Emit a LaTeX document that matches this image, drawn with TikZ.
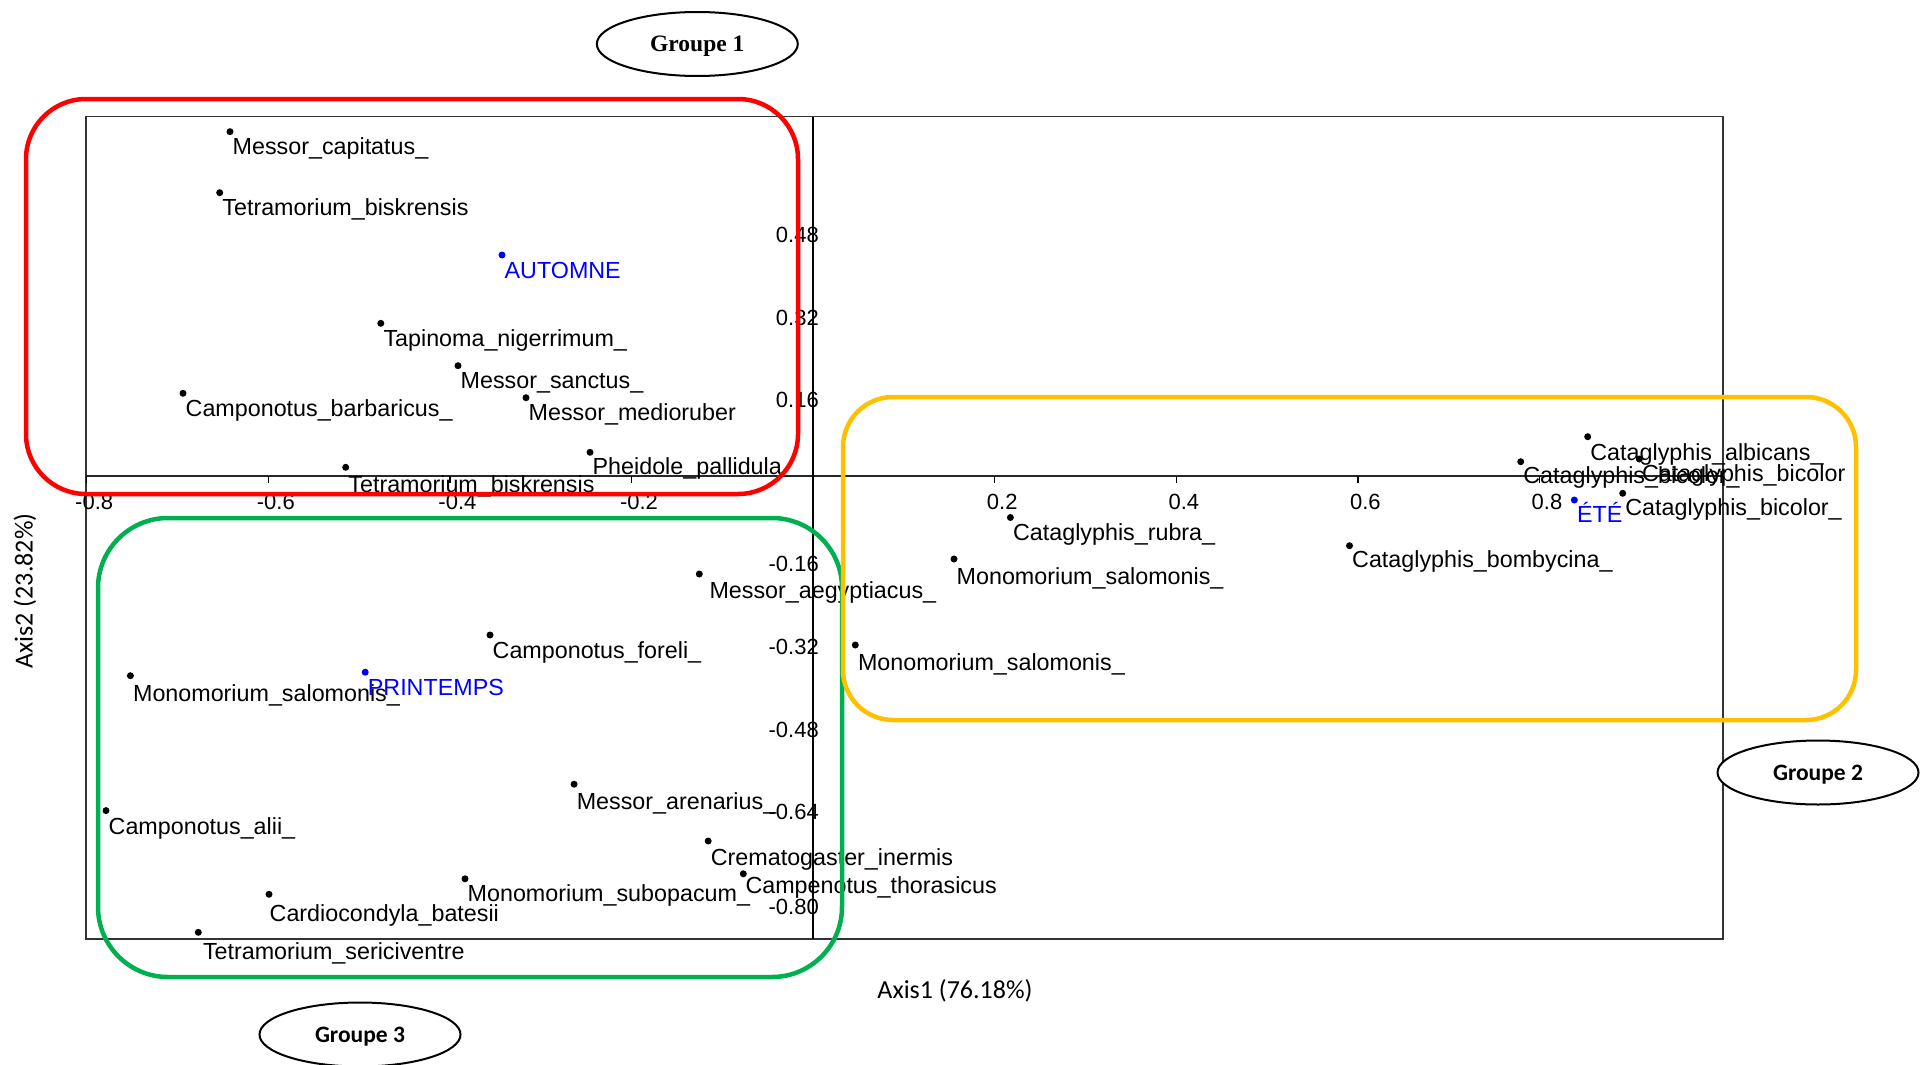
\documentclass[tikz,border=0pt]{standalone}
\usepackage{fontspec}
\newfontfamily\lsans{Liberation Sans}
\newfontfamily\carl{Carlito}
\newfontfamily\lserif{Liberation Serif}
\usetikzlibrary{shapes.geometric}
\definecolor{grpred}{HTML}{FF0000}
\definecolor{grpgreen}{HTML}{00B050}
\definecolor{grpyellow}{HTML}{FFC000}
\definecolor{axisgray}{HTML}{333333}
% #1 colour, #2 name, #3 dot position, #4 label offset, #5 text
\newcommand\ptlab[5][black]{%
  \node[dotpt,fill=#1] (#2) at (#3) {};
  \node[splab,text=#1] (#2l) at ([shift={(#4)}]#2.center) {#5};}
\begin{document}
\begin{tikzpicture}[x=1pt,y=-1pt,
  splab/.style={anchor=base west,inner sep=0pt,font=\lsans\fontsize{23.3}{28}\selectfont},
  dotpt/.style={circle,inner sep=0pt,minimum size=7pt},
  xtl/.style={anchor=base,inner sep=0pt,font=\lsans\fontsize{22}{26}\selectfont},
  ytl/.style={anchor=base east,inner sep=0pt,font=\lsans\fontsize{22}{26}\selectfont},
  axlab/.style={inner sep=0pt,font=\carl\fontsize{26}{30}\selectfont},
  grpbox/.style={line width=4.5pt},
  grpell/.style={ellipse,draw,fill=white,line width=2pt,minimum width=201pt,minimum height=64pt,inner sep=0pt,text depth=0pt}
]
\useasboundingbox (0,0) rectangle (1927,1065);
% plot frame and axes
\coordinate (fTL) at (86,116.5);
\coordinate (fBR) at (1723,939);
\draw[axisgray,line width=1.6pt] (fTL) rectangle (fBR);
\coordinate (xL) at (86,476);
\coordinate (xR) at (1723,476);
\coordinate (yT) at (813,116.5);
\coordinate (yB) at (813,939);
\draw[black!85,line width=1.8pt] (xL) -- (xR);
\draw[black,line width=1.3pt] (yT) -- (yB);
% x ticks and labels
\foreach \v/\px [count=\i] in {-0.8/86.7,-0.6/268.3,-0.4/449.9,-0.2/631.5,0.2/994.7,0.4/1176.3,0.6/1357.9,0.8/1539.5}{
  \coordinate (tk\i) at (\px,476);
  \draw[black,line width=1.2pt] (tk\i) -- ++(0,7);
  \node[xtl] (xl\i) at (\px+7.5,509.3) {\v};
}
% y tick labels
\foreach \v/\py [count=\i] in {0.48/235.5,0.32/318,0.16/400,-0.16/564,-0.32/647,-0.48/730.5,-0.64/812,-0.80/907}{
  \node[ytl] (yl\i) at (819,\py+7.4) {\v};
}
% points
\ptlab{mc}{230,131.7}{2.5,22.5}{Messor\_capitatus\_}
\ptlab{tbA}{219.7,192.7}{2.5,22.5}{Tetramorium\_biskrensis}
\ptlab[blue]{aut}{502,255}{2.5,23}{AUTOMNE}
\ptlab{tn}{380.8,323.3}{2.5,23}{Tapinoma\_nigerrimum\_}
\ptlab{ms}{458,365.7}{2.5,22.5}{Messor\_sanctus\_}
\ptlab{cb}{183,393.3}{2.5,23}{Camponotus\_barbaricus\_}
\ptlab{mm}{526,397.7}{2.5,22.5}{Messor\_medioruber}
\ptlab{pp}{590,452.3}{2.5,22.5}{Pheidole\_pallidula}
\ptlab{tbB}{345.7,467.3}{2.5,25}{Tetramorium\_biskrensis}
\ptlab{mae}{699.3,574}{10,24.3}{Messor\_aegyptiacus\_}
\ptlab{cf}{490,635}{2.5,23}{Camponotus\_foreli\_}
\ptlab{mslA}{130.4,675.7}{2.5,26}{Monomorium\_salomonis\_}
\ptlab[blue]{pri}{365.2,672.2}{2.5,23.5}{PRINTEMPS}
\ptlab{mar}{574.1,784.2}{2.5,25}{Messor\_arenarius\_}
\ptlab{ca}{106,810.6}{2.5,23.5}{Camponotus\_alii\_}
\ptlab{ci}{708.2,841}{2.5,24.5}{Crematogaster\_inermis}
\ptlab{ct}{743.3,873.8}{2,20}{Campenotus\_thorasicus}
\ptlab{msu}{465,878.8}{2.5,22.5}{Monomorium\_subopacum\_}
\ptlab{cdb}{269,894.3}{0.5,27.4}{Cardiocondyla\_batesii}
\ptlab{ts}{198.3,932.3}{4.5,26.7}{Tetramorium\_sericiventre}
\ptlab{cr}{1010.4,517.5}{2.5,23}{Cataglyphis\_rubra\_}
\ptlab{mslB}{954,559}{2.5,25}{Monomorium\_salomonis\_}
\ptlab{mslC}{855.3,645}{2.5,25}{Monomorium\_salomonis\_}
\ptlab{cbo}{1349.5,545.7}{2.5,22}{Cataglyphis\_bombycina\_}
\ptlab{cal}{1587.7,436.7}{2.5,23.5}{Cataglyphis\_albicans\_}
\ptlab{cbiA}{1639.3,459}{2.5,22.5}{Cataglyphis\_bicolor}
\ptlab{cbiB}{1520.7,461.7}{2.5,22}{Cataglyphis\_bicolor\_}
\ptlab[blue]{ete}{1574.3,500}{2.5,22}{ÉTÉ}
\ptlab{cbiC}{1622.7,493.3}{2.5,22.5}{Cataglyphis\_bicolor\_}
% axis titles
\node[axlab,anchor=base] (ax1) at (955,998.3) {Axis1 (76.18\%)};
\node[axlab,rotate=90] (ax2) at (25,591) {Axis2 (23.82\%)};
% group boxes
\draw[grpbox,grpred,rounded corners=60pt] (26,99) rectangle (798,494);
\draw[grpbox,grpgreen,rounded corners=70pt] (98,518) rectangle (842,977);
\draw[grpbox,grpyellow,rounded corners=50pt] (843,397) rectangle (1856,720);
% group ellipses
\node[grpell,font=\lserif\bfseries\fontsize{23.5}{28}\selectfont] (g1) at (697.3,44) {Groupe 1};
\node[grpell,font=\carl\bfseries\fontsize{23.5}{28}\selectfont] (g2) at (1818,772.5) {Groupe 2};
\node[grpell,font=\carl\bfseries\fontsize{23.5}{28}\selectfont] (g3) at (360,1034.5) {Groupe 3};
\end{tikzpicture}
\end{document}
